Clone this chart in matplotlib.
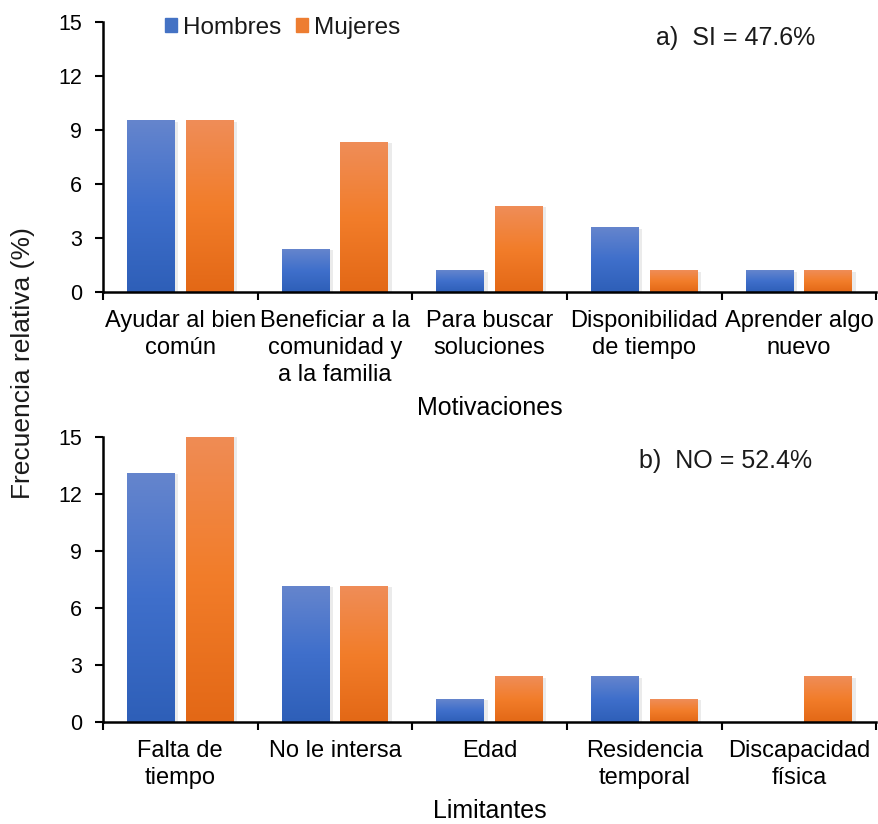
import numpy as np
import matplotlib
matplotlib.use("Agg")
import matplotlib.pyplot as plt
from matplotlib.colors import LinearSegmentedColormap
from matplotlib.patches import Patch

plt.rcParams['font.family'] = ['Liberation Sans', 'DejaVu Sans']
plt.rcParams['text.color'] = '#1a1a1a'

motivaciones = ["Ayudar al bien\ncomún", "Beneficiar a la\ncomunidad y\na la familia",
                "Para buscar\nsoluciones", "Disponibilidad\nde tiempo", "Aprender algo\nnuevo"]
mot_hombres = [9.52, 2.38, 1.19, 3.57, 1.19]
mot_mujeres = [9.52, 8.33, 4.76, 1.19, 1.19]

limitantes = ["Falta de\ntiempo", "No le intersa", "Edad", "Residencia\ntemporal", "Discapacidad\nfísica"]
lim_hombres = [13.10, 7.14, 1.19, 2.38, 0.0]
lim_mujeres = [15.48, 7.14, 2.38, 1.19, 2.38]

yticks = [0, 3, 6, 9, 12, 15]

blue_cmap = LinearSegmentedColormap.from_list("b", ["#2E5FB8", "#3F6FCB", "#6585CD"])
orange_cmap = LinearSegmentedColormap.from_list("o", ["#E36816", "#F27D2A", "#EF8D58"])
grad = np.linspace(0, 1, 256).reshape(-1, 1)


def gradient_bars(ax, x, vals, cmap):
    bars = ax.bar(x, vals, width=0.31, color='none', edgecolor='none')
    for b in bars:
        x0, w, h = b.get_x(), b.get_width(), b.get_height()
        if h <= 0:
            continue
        # soft shadow
        ax.bar(x0 + w / 2 + 0.012, h, width=w + 0.02, bottom=-0.05, color='#000000',
               alpha=0.08, zorder=1)
        ax.imshow(grad, extent=[x0, x0 + w, 0, h], origin='lower', aspect='auto',
                  cmap=cmap, zorder=2)
    return bars


def panel(ax, cats, hom, muj, xlabel, note, note_xy):
    x = np.arange(len(cats)) + 0.5
    gradient_bars(ax, x - 0.19, hom, blue_cmap)
    gradient_bars(ax, x + 0.19, muj, orange_cmap)
    ax.set_xlim(0, len(cats))
    ax.set_ylim(0, 15)
    ax.set_yticks(yticks)
    ax.set_xticks(np.arange(len(cats) + 1))
    ax.set_xticklabels([])
    ax.set_xticks(x, minor=True)
    ax.set_xticklabels(cats, minor=True, fontsize=17, linespacing=1.3)
    ax.tick_params(axis='x', which='minor', length=0, pad=13)
    ax.tick_params(axis='x', which='major', length=6, width=1.5)
    ax.tick_params(axis='y', length=6, width=1.5, labelsize=15.5, pad=9)
    for s in ['top', 'right']:
        ax.spines[s].set_visible(False)
    for s in ['left', 'bottom']:
        ax.spines[s].set_linewidth(1.8)
    ax.set_xlabel(xlabel, fontsize=18, labelpad=7)
    ax.text(note_xy[0], note_xy[1], note, transform=ax.transAxes, ha='right', va='center',
            fontsize=18)


fig = plt.figure(figsize=(8.79, 8.24), dpi=100)
ax1 = fig.add_axes([0.117, 0.6456, 0.88, 0.3277])
ax2 = fig.add_axes([0.117, 0.1238, 0.88, 0.3459])

panel(ax1, motivaciones, mot_hombres, mot_mujeres, "Motivaciones", "a)  SI = 47.6%", (0.921, 0.941))
panel(ax2, limitantes, lim_hombres, lim_mujeres, "Limitantes", "b)  NO = 52.4%", (0.917, 0.916))

# legend
handles = [Patch(color="#4472C4", label="Hombres"), Patch(color="#ED7D31", label="Mujeres")]
ax1.legend(handles=handles, loc='center left', bbox_to_anchor=(0.08, 0.978), ncol=2,
           frameon=False, fontsize=17.5, handlelength=0.5, handleheight=0.5,
           handletextpad=0.25, columnspacing=0.6, borderpad=0, borderaxespad=0)

fig.text(0.026, 0.5595, "Frecuencia relativa (%)", rotation=90, ha='center', va='center',
         fontsize=19)

fig.savefig("out.png", dpi=100)
